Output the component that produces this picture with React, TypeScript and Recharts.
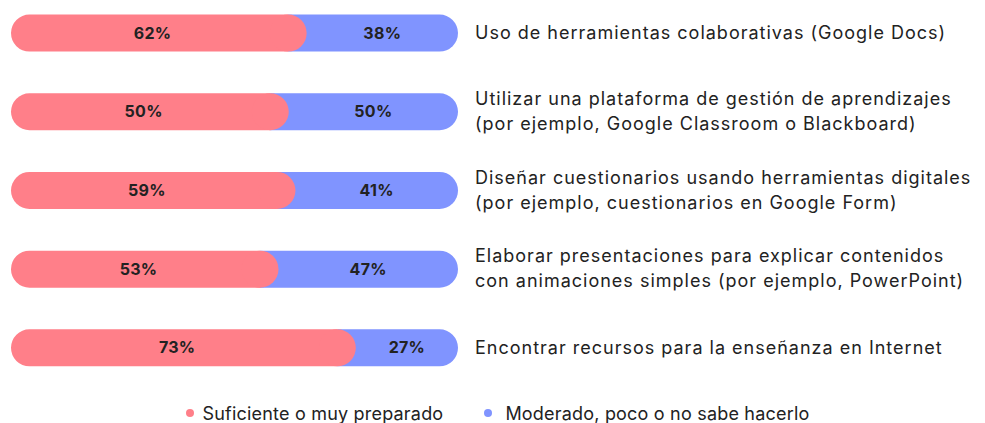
import React from "react";
import { BarChart, Bar, XAxis, YAxis, Legend, LabelList } from "recharts";

// categories (each line of the right-hand label)
const categories: string[][] = [
    ["Uso de herramientas colaborativas (Google Docs)"],
    ["Utilizar una plataforma de gestión de aprendizajes", "(por ejemplo, Google Classroom o Blackboard)"],
    ["Diseñar cuestionarios usando herramientas digitales", "(por ejemplo, cuestionarios en Google Form)"],
    ["Elaborar presentaciones para explicar contenidos", "con animaciones simples (por ejemplo, PowerPoint)"],
    ["Encontrar recursos para la enseñanza en Internet"],
];

// bar lengths as drawn in the picture (%)
const suficienteBar = [62, 58, 59.5, 55.7, 73];
// printed labels
const suficienteLabel = ["62%", "50%", "59%", "53%", "73%"];
const moderadoLabel = ["38%", "50%", "41%", "47%", "27%"];

const seriesOrder = ["suficiente", "moderado"];

const RED = "#ff7f89";
const BLUE = "#8094ff";
const TEXT = "#222222";
const FONT = "Inter, 'Noto Sans', sans-serif";

const data = categories.map((lines, i) => ({
    name: lines.join("\n"),
    suficiente: suficienteBar[i],
    moderado: 100 - suficienteBar[i],
}));

const RedShape = (props: any) => {
    const { x, y, width, height } = props;
    const r = height / 2;
    const d = `M${x + r},${y} L${x + width},${y} L${x + width},${y + height} L${x + r},${y + height} A${r},${r} 0 0 1 ${x + r},${y} Z`;
    return <path d={d} fill={RED} />;
};

const BlueShape = (props: any) => {
    const { x, y, width, height } = props;
    const r = height / 2;
    const right = x + width;
    const d = `M${x},${y} L${right - r},${y} A${r},${r} 0 0 1 ${right - r},${y + height} L${x},${y + height} Z`;
    return (
        <g>
            <path d={d} fill={BLUE} />
            {/* rounded end of the red segment sits over the blue one */}
            <circle cx={x} cy={y + r} r={r} fill={RED} />
        </g>
    );
};

const redLabel = (props: any) => {
    const { x, y, width, height, index } = props;
    return (
        <text x={x + width / 2 + 3} y={y + height / 2} dy={5.5} textAnchor="middle"
              fontFamily={FONT} fontSize={16} fontWeight={700} fill={TEXT} letterSpacing={0.3}>
            {suficienteLabel[index]}
        </text>
    );
};

const blueLabel = (props: any) => {
    const { x, y, width, height, index } = props;
    const r = height / 2;
    return (
        <text x={x + (width + r) / 2} y={y + height / 2} dy={5.5} textAnchor="middle"
              fontFamily={FONT} fontSize={16} fontWeight={700} fill={TEXT} letterSpacing={0.3}>
            {moderadoLabel[index]}
        </text>
    );
};

const CategoryTick = (props: any) => {
    const { x, y, payload } = props;
    const lines: string[] = String(payload.value).split("\n");
    const lh = 25;
    const start = y - ((lines.length - 1) * lh) / 2;
    return (
        <text x={x + 9} y={start} dy={6} textAnchor="start" fontFamily={FONT} fontSize={18}
              fill={TEXT} letterSpacing={1}>
            {lines.map((l, i) => (
                <tspan key={i} x={x + 9} y={start + i * lh} dy={6}>{l}</tspan>
            ))}
        </text>
    );
};

const renderLegend = (props: any) => {
    const items = [...(props.payload || [])].sort(
        (a: any, b: any) => seriesOrder.indexOf(a.dataKey) - seriesOrder.indexOf(b.dataKey)
    );
    return (
        <div style={{ height: 36, paddingTop: 17, boxSizing: "border-box", display: "flex",
            justifyContent: "center", gap: 41, fontFamily: FONT, fontSize: 18, color: TEXT,
            lineHeight: "20px", letterSpacing: 0.2 }}>
            {items.map((p: any, i: number) => (
                <div key={i} style={{ display: "flex", alignItems: "center", gap: i === 0 ? 8 : 13 }}>
                    <span style={{ width: 8, height: 8, borderRadius: 4, background: p.color,
                        display: "inline-block", marginTop: -2 }} />
                    <span>{p.value}</span>
                </div>
            ))}
        </div>
    );
};

export default function App() {
    return (
        <div style={{ position: "absolute", left: 0, top: 0, width: 985, height: 423, overflow: "hidden", background: "#fff" }}>
            <BarChart
                width={985}
                height={423}
                data={data}
                layout="vertical"
                margin={{ top: -6.4, right: 0, left: 11, bottom: 0 }}
                barSize={37}
            >
                <XAxis type="number" domain={[0, 100]} hide />
                <YAxis
                    type="category"
                    dataKey="name"
                    orientation="right"
                    width={527}
                    axisLine={false}
                    tickLine={false}
                    interval={0}
                    tick={<CategoryTick />}
                />
                <Legend verticalAlign="bottom" height={36} content={renderLegend} />
                <Bar dataKey="suficiente" name="Suficiente o muy preparado" stackId="a" fill={RED}
                     shape={<RedShape />} isAnimationActive={false}>
                    <LabelList dataKey="suficiente" content={redLabel} />
                </Bar>
                <Bar dataKey="moderado" name="Moderado, poco o no sabe hacerlo" stackId="a" fill={BLUE}
                     shape={<BlueShape />} isAnimationActive={false}>
                    <LabelList dataKey="moderado" content={blueLabel} />
                </Bar>
            </BarChart>
        </div>
    );
}
